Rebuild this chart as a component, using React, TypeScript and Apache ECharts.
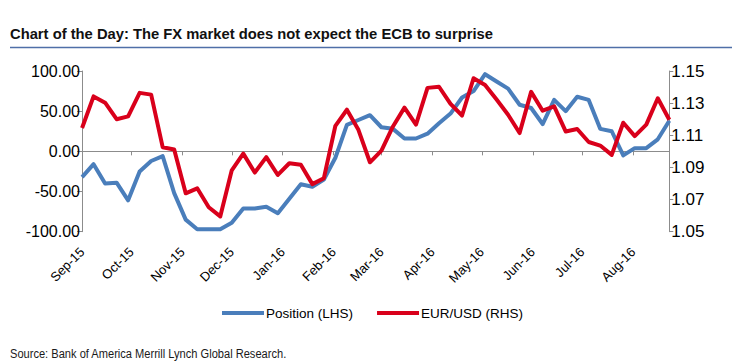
import React, { useEffect, useRef } from 'react';
import * as echarts from 'echarts';

// Weekly observation dates (Tuesdays)
const weekDates = [
  '2015-09-01', '2015-09-08', '2015-09-15', '2015-09-22', '2015-09-29',
  '2015-10-06', '2015-10-13', '2015-10-20', '2015-10-27',
  '2015-11-03', '2015-11-10', '2015-11-17', '2015-11-24',
  '2015-12-01', '2015-12-08', '2015-12-15', '2015-12-22', '2015-12-29',
  '2016-01-05', '2016-01-12', '2016-01-19', '2016-01-26',
  '2016-02-02', '2016-02-09', '2016-02-16', '2016-02-23',
  '2016-03-01', '2016-03-08', '2016-03-15', '2016-03-22', '2016-03-29',
  '2016-04-05', '2016-04-12', '2016-04-19', '2016-04-26',
  '2016-05-03', '2016-05-10', '2016-05-17', '2016-05-24', '2016-05-31',
  '2016-06-07', '2016-06-14', '2016-06-21', '2016-06-28',
  '2016-07-05', '2016-07-12', '2016-07-19', '2016-07-26',
  '2016-08-02', '2016-08-09', '2016-08-16', '2016-08-23',
];

// Position (LHS)
const positionLHS = [
  -32, -16, -40, -39, -61, -25, -12, -6, -52, -85,
  -97, -97, -97, -89, -71, -71, -69, -77, -59, -41,
  -44, -35, -8, 33, 39, 45, 30, 28, 16, 16,
  22, 35, 47, 67, 75, 96, 87, 78, 58, 54,
  34, 64, 50, 68, 64, 28, 25, -5, 4, 4,
  15, 38,
];

// EUR/USD (RHS)
const eurUsdRHS = [
  1.1145, 1.1342, 1.1303, 1.1200, 1.1218, 1.1364, 1.1353, 1.1026, 1.1012, 1.0739,
  1.0770, 1.0652, 1.0595, 1.0882, 1.0986, 1.0868, 1.0964, 1.0853, 1.0926, 1.0916,
  1.0796, 1.0833, 1.1159, 1.1259, 1.1134, 1.0932, 1.1005, 1.1155, 1.1272, 1.1166,
  1.1395, 1.1402, 1.1295, 1.1223, 1.1455, 1.1413, 1.1322, 1.1228, 1.1114, 1.1370,
  1.1253, 1.1280, 1.1124, 1.1139, 1.1058, 1.1036, 1.0978, 1.1178, 1.1095, 1.1166,
  1.1330, 1.1197,
];

const tickMonths = [
  '2015-09', '2015-10', '2015-11', '2015-12', '2016-01', '2016-02',
  '2016-03', '2016-04', '2016-05', '2016-06', '2016-07', '2016-08',
];
const tickLabels = [
  'Sep-15', 'Oct-15', 'Nov-15', 'Dec-15', 'Jan-16', 'Feb-16',
  'Mar-16', 'Apr-16', 'May-16', 'Jun-16', 'Jul-16', 'Aug-16',
];

const leftAxis = { min: -100, max: 100, step: 50 };
const rightAxis = { min: 1.05, max: 1.15, step: 0.02 };

const seriesNames = ['Position (LHS)', 'EUR/USD (RHS)'];
const titleText = 'Chart of the Day: The FX market does not expect the ECB to surprise';
const sourceText = 'Source: Bank of America Merrill Lynch Global Research.';

const FONT = '"Liberation Sans", Arial, sans-serif';
const BLUE = '#4a7ebb';
const RED = '#d9001b';
const AXIS = '#8c8c8c';
const DAY = 86400000;

function toTime(s: string): number {
  const [y, m, d] = s.split('-').map(Number);
  return new Date(y, m - 1, d).getTime();
}

function measure(text: string, font: string): number {
  const ctx = document.createElement('canvas').getContext('2d');
  if (!ctx) return 1;
  ctx.font = font;
  return ctx.measureText(text).width || 1;
}

function monthLabel(value: number): string {
  const d = new Date(value);
  if (d.getDate() !== 1 || d.getHours() !== 0) return '';
  const key = `${d.getFullYear()}-${String(d.getMonth() + 1).padStart(2, '0')}`;
  const i = tickMonths.indexOf(key);
  return i >= 0 ? tickLabels[i] : '';
}

export default function App() {
  const ref = useRef<HTMLDivElement>(null);

  useEffect(() => {
    if (!ref.current) return;
    const chart = echarts.init(ref.current, undefined, { renderer: 'svg' });

    const minT = toTime(weekDates[0]) - 3600 * 1000;
    const maxT = toTime(weekDates[weekDates.length - 1]);

    const titleFont = `bold 15px "Liberation Sans"`;
    const sourceFont = `13.5px "Liberation Sans"`;
    const titleScale = 483 / measure(titleText, titleFont);
    const sourceScale = 277 / measure(sourceText, sourceFont);

    const option: any = {
      animation: false,
      backgroundColor: '#ffffff',
      textStyle: { fontFamily: FONT },
      grid: { left: 82, right: 62.7, top: 71, bottom: 131.3, containLabel: false },
      legend: {
        data: seriesNames,
        left: 222,
        top: 306,
        padding: 0,
        itemWidth: 42,
        itemHeight: 4,
        itemGap: 24,
        icon: 'rect',
        textStyle: { fontSize: 13.5, color: '#000', fontFamily: FONT, padding: [0, 0, 0, -3] },
      },
      xAxis: [
        {
          type: 'time',
          min: minT,
          max: maxT,
          position: 'bottom',
          minInterval: 30 * DAY,
          maxInterval: 30 * DAY,
          axisLine: { show: true, onZero: true, lineStyle: { color: AXIS, width: 1 } },
          axisTick: { show: true, length: 4, inside: false, lineStyle: { color: AXIS, width: 1 } },
          axisLabel: { show: false },
          splitLine: { show: false },
        },
        {
          type: 'time',
          min: minT,
          max: maxT,
          position: 'bottom',
          minInterval: 30 * DAY,
          maxInterval: 30 * DAY,
          axisLine: { show: false, onZero: false },
          axisTick: { show: false },
          axisLabel: {
            show: true,
            rotate: 45,
            margin: 18,
            fontSize: 13,
            color: '#000',
            fontFamily: FONT,
            formatter: (v: number) => monthLabel(v),
          },
          splitLine: { show: false },
        },
      ],
      yAxis: [
        {
          type: 'value',
          position: 'left',
          min: leftAxis.min,
          max: leftAxis.max,
          interval: leftAxis.step,
          axisLine: { show: true, onZero: false, lineStyle: { color: AXIS, width: 1 } },
          axisTick: { show: true, length: 5, lineStyle: { color: AXIS, width: 1 } },
          axisLabel: {
            fontSize: 16,
            color: '#000',
            margin: 2,
            fontFamily: FONT,
            formatter: (v: number) => v.toFixed(2),
          },
          splitLine: { show: false },
        },
        {
          type: 'value',
          position: 'right',
          min: rightAxis.min,
          max: rightAxis.max,
          interval: rightAxis.step,
          axisLine: { show: true, onZero: false, lineStyle: { color: AXIS, width: 1 } },
          axisTick: { show: true, length: 4, lineStyle: { color: AXIS, width: 1 } },
          axisLabel: {
            fontSize: 17,
            color: '#000',
            margin: 2,
            fontFamily: FONT,
            formatter: (v: number) => v.toFixed(2),
          },
          splitLine: { show: false },
        },
      ],
      series: [
        {
          name: seriesNames[0],
          type: 'line',
          xAxisIndex: 0,
          yAxisIndex: 0,
          showSymbol: false,
          symbol: 'none',
          lineStyle: { color: BLUE, width: 4, join: 'round' },
          itemStyle: { color: BLUE },
          data: weekDates.map((d, i) => [toTime(d), positionLHS[i]]),
        },
        {
          name: seriesNames[1],
          type: 'line',
          xAxisIndex: 0,
          yAxisIndex: 1,
          showSymbol: false,
          symbol: 'none',
          lineStyle: { color: RED, width: 4, join: 'round' },
          itemStyle: { color: RED },
          data: weekDates.map((d, i) => [toTime(d), eurUsdRHS[i]]),
        },
      ],
      graphic: [
        {
          type: 'text',
          x: 10,
          y: 34.2,
          scaleX: titleScale,
          style: {
            text: titleText,
            font: titleFont,
            fill: '#111111',
            align: 'left',
            verticalAlign: 'middle',
            textAlign: 'left',
            textVerticalAlign: 'middle',
          },
        },
        {
          type: 'line',
          shape: { x1: 10, y1: 47.5, x2: 732, y2: 47.5 },
          style: { stroke: '#4f6fa8', lineWidth: 1.5 },
        },
        {
          type: 'text',
          x: 10,
          y: 353.5,
          scaleX: sourceScale,
          style: {
            text: sourceText,
            font: sourceFont,
            fill: '#1a1a1a',
            align: 'left',
            verticalAlign: 'middle',
            textAlign: 'left',
            textVerticalAlign: 'middle',
          },
        },
      ],
    };

    chart.setOption(option);
    return () => chart.dispose();
  }, []);

  return (
    <div
      ref={ref}
      style={{ position: 'absolute', left: 0, top: 0, width: 732, height: 363, background: '#fff' }}
    />
  );
}
